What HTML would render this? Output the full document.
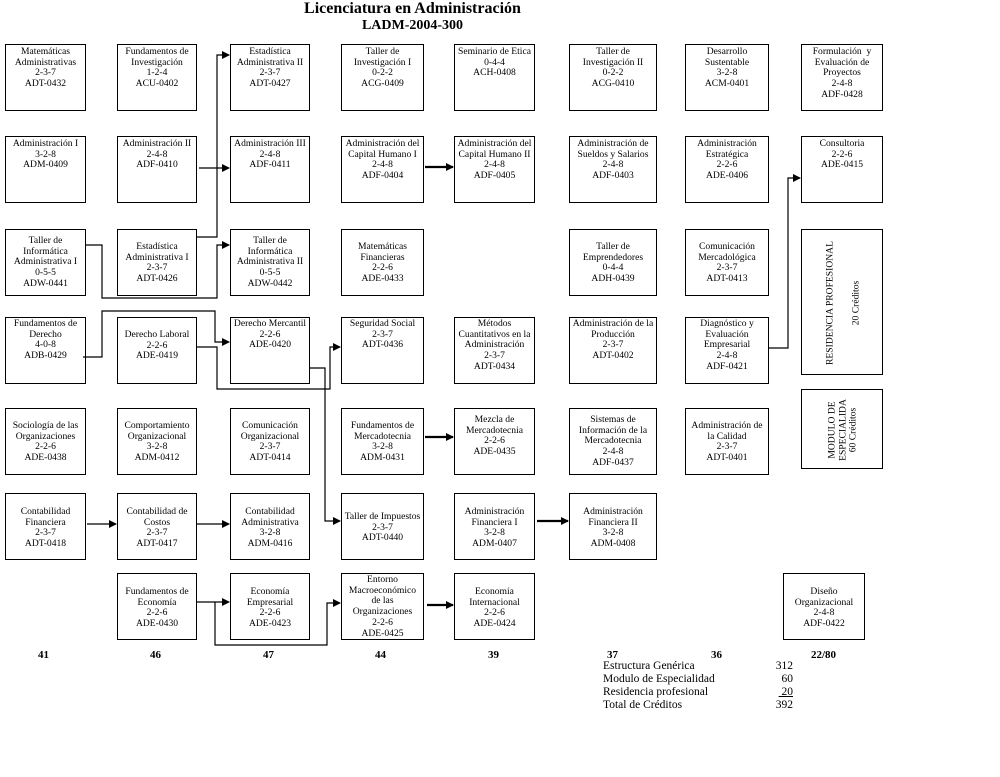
<!DOCTYPE html>
<html><head><meta charset="utf-8"><style>
body{margin:0;background:#fff;width:1000px;height:777px;position:relative;overflow:hidden;font-family:"Liberation Serif",serif;color:#000}
.b{position:absolute;border:1.3px solid #000;box-sizing:border-box;text-align:center;font-size:9.6px;line-height:10.7px}
.t{position:absolute;font-weight:bold;font-family:"Liberation Serif",serif}
.n{position:absolute;font-weight:bold;font-size:11px;top:649px}
.s{position:absolute;font-size:11.5px;left:603px}
.v{position:absolute;font-size:11.5px;right:207px;text-align:right}
</style></head><body>
<div class="t" style="left:0;width:825px;text-align:center;top:0;font-size:16px">Licenciatura en Administración</div>
<div class="t" style="left:0;width:825px;text-align:center;top:18px;font-size:14px">LADM-2004-300</div>

<div class="b" style="left:5px;top:44px;width:81px;height:67px;padding-top:2px">Matemáticas<br>Administrativas<br>2-3-7<br>ADT-0432</div>
<div class="b" style="left:117px;top:44px;width:80px;height:67px;padding-top:2px">Fundamentos de<br>Investigación<br>1-2-4<br>ACU-0402</div>
<div class="b" style="left:230px;top:44px;width:80px;height:67px;padding-top:2px">Estadística<br>Administrativa II<br>2-3-7<br>ADT-0427</div>
<div class="b" style="left:341px;top:44px;width:83px;height:67px;padding-top:2px">Taller de<br>Investigación I<br>0-2-2<br>ACG-0409</div>
<div class="b" style="left:454px;top:44px;width:81px;height:67px;padding-top:2px">Seminario de Etica<br>0-4-4<br>ACH-0408</div>
<div class="b" style="left:569px;top:44px;width:88px;height:67px;padding-top:2px">Taller de<br>Investigación II<br>0-2-2<br>ACG-0410</div>
<div class="b" style="left:685px;top:44px;width:84px;height:67px;padding-top:2px">Desarrollo<br>Sustentable<br>3-2-8<br>ACM-0401</div>
<div class="b" style="left:801px;top:44px;width:82px;height:67px;padding-top:2px">Formulación &nbsp;y<br>Evaluación de<br>Proyectos<br>2-4-8<br>ADF-0428</div>

<div class="b" style="left:5px;top:136px;width:81px;height:67px;padding-top:2px">Administración I<br>3-2-8<br>ADM-0409</div>
<div class="b" style="left:117px;top:136px;width:80px;height:67px;padding-top:2px">Administración II<br>2-4-8<br>ADF-0410</div>
<div class="b" style="left:230px;top:136px;width:80px;height:67px;padding-top:2px">Administración III<br>2-4-8<br>ADF-0411</div>
<div class="b" style="left:341px;top:136px;width:83px;height:67px;padding-top:2px">Administración del<br>Capital Humano I<br>2-4-8<br>ADF-0404</div>
<div class="b" style="left:454px;top:136px;width:81px;height:67px;padding-top:2px">Administración del<br>Capital Humano II<br>2-4-8<br>ADF-0405</div>
<div class="b" style="left:569px;top:136px;width:88px;height:67px;padding-top:2px">Administración de<br>Sueldos y Salarios<br>2-4-8<br>ADF-0403</div>
<div class="b" style="left:685px;top:136px;width:84px;height:67px;padding-top:2px">Administración<br>Estratégica<br>2-2-6<br>ADE-0406</div>
<div class="b" style="left:801px;top:136px;width:82px;height:67px;padding-top:2px">Consultoria<br>2-2-6<br>ADE-0415</div>

<div class="b" style="left:5px;top:229px;width:81px;height:67px;padding-top:6px">Taller de<br>Informática<br>Administrativa I<br>0-5-5<br>ADW-0441</div>
<div class="b" style="left:117px;top:229px;width:80px;height:67px;padding-top:12px">Estadística<br>Administrativa I<br>2-3-7<br>ADT-0426</div>
<div class="b" style="left:230px;top:229px;width:80px;height:67px;padding-top:6px">Taller de<br>Informática<br>Administrativa II<br>0-5-5<br>ADW-0442</div>
<div class="b" style="left:341px;top:229px;width:83px;height:67px;padding-top:12px">Matemáticas<br>Financieras<br>2-2-6<br>ADE-0433</div>
<div class="b" style="left:569px;top:229px;width:88px;height:67px;padding-top:12px">Taller de<br>Emprendedores<br>0-4-4<br>ADH-0439</div>
<div class="b" style="left:685px;top:229px;width:84px;height:67px;padding-top:12px">Comunicación<br>Mercadológica<br>2-3-7<br>ADT-0413</div>
<div class="b" style="left:801px;top:229px;width:82px;height:146px"><div style="position:absolute;left:41px;top:73px;width:146px;transform:translate(-50%,-50%) rotate(-90deg);line-height:13px">RESIDENCIA PROFESIONAL<br><br>20 Créditos</div></div>
<div class="b" style="left:801px;top:389px;width:82px;height:80px"><div style="position:absolute;left:41px;top:40px;width:80px;transform:translate(-50%,-50%) rotate(-90deg);line-height:10.5px">MODULO DE<br>ESPECIALIDA<br>60 Créditos</div></div>

<div class="b" style="left:5px;top:317px;width:81px;height:67px;padding-top:1px">Fundamentos de<br>Derecho<br>4-0-8<br>ADB-0429</div>
<div class="b" style="left:117px;top:317px;width:80px;height:67px;padding-top:12px">Derecho Laboral<br>2-2-6<br>ADE-0419</div>
<div class="b" style="left:230px;top:317px;width:80px;height:67px;padding-top:1px">Derecho Mercantil<br>2-2-6<br>ADE-0420</div>
<div class="b" style="left:341px;top:317px;width:83px;height:67px;padding-top:1px">Seguridad Social<br>2-3-7<br>ADT-0436</div>
<div class="b" style="left:454px;top:317px;width:81px;height:67px;padding-top:1px">Métodos<br>Cuantitativos en la<br>Administración<br>2-3-7<br>ADT-0434</div>
<div class="b" style="left:569px;top:317px;width:88px;height:67px;padding-top:1px">Administración de la<br>Producción<br>2-3-7<br>ADT-0402</div>
<div class="b" style="left:685px;top:317px;width:84px;height:67px;padding-top:1px">Diagnóstico y<br>Evaluación<br>Empresarial<br>2-4-8<br>ADF-0421</div>

<div class="b" style="left:5px;top:408px;width:81px;height:67px;padding-top:12px">Sociología de las<br>Organizaciones<br>2-2-6<br>ADE-0438</div>
<div class="b" style="left:117px;top:408px;width:80px;height:67px;padding-top:12px">Comportamiento<br>Organizacional<br>3-2-8<br>ADM-0412</div>
<div class="b" style="left:230px;top:408px;width:80px;height:67px;padding-top:12px">Comunicación<br>Organizacional<br>2-3-7<br>ADT-0414</div>
<div class="b" style="left:341px;top:408px;width:83px;height:67px;padding-top:12px">Fundamentos de<br>Mercadotecnia<br>3-2-8<br>ADM-0431</div>
<div class="b" style="left:454px;top:408px;width:81px;height:67px;padding-top:6px">Mezcla de<br>Mercadotecnia<br>2-2-6<br>ADE-0435</div>
<div class="b" style="left:569px;top:408px;width:88px;height:67px;padding-top:6px">Sistemas de<br>Información de la<br>Mercadotecnia<br>2-4-8<br>ADF-0437</div>
<div class="b" style="left:685px;top:408px;width:84px;height:67px;padding-top:12px">Administración de<br>la Calidad<br>2-3-7<br>ADT-0401</div>

<div class="b" style="left:5px;top:493px;width:81px;height:67px;padding-top:13px">Contabilidad<br>Financiera<br>2-3-7<br>ADT-0418</div>
<div class="b" style="left:117px;top:493px;width:80px;height:67px;padding-top:13px">Contabilidad de<br>Costos<br>2-3-7<br>ADT-0417</div>
<div class="b" style="left:230px;top:493px;width:80px;height:67px;padding-top:13px">Contabilidad<br>Administrativa<br>3-2-8<br>ADM-0416</div>
<div class="b" style="left:341px;top:493px;width:83px;height:67px;padding-top:18px">Taller de Impuestos<br>2-3-7<br>ADT-0440</div>
<div class="b" style="left:454px;top:493px;width:81px;height:67px;padding-top:13px">Administración<br>Financiera I<br>3-2-8<br>ADM-0407</div>
<div class="b" style="left:569px;top:493px;width:88px;height:67px;padding-top:13px">Administración<br>Financiera II<br>3-2-8<br>ADM-0408</div>

<div class="b" style="left:117px;top:573px;width:80px;height:67px;padding-top:13px">Fundamentos de<br>Economía<br>2-2-6<br>ADE-0430</div>
<div class="b" style="left:230px;top:573px;width:80px;height:67px;padding-top:13px">Economía<br>Empresarial<br>2-2-6<br>ADE-0423</div>
<div class="b" style="left:341px;top:573px;width:83px;height:67px;padding-top:1px">Entorno<br>Macroeconómico<br>de las<br>Organizaciones<br>2-2-6<br>ADE-0425</div>
<div class="b" style="left:454px;top:573px;width:81px;height:67px;padding-top:13px">Economía<br>Internacional<br>2-2-6<br>ADE-0424</div>
<div class="b" style="left:783px;top:573px;width:82px;height:67px;padding-top:13px">Diseño<br>Organizacional<br>2-4-8<br>ADF-0422</div>

<svg style="position:absolute;left:0;top:0" width="1000" height="777">
<defs><marker id="a" markerWidth="8" markerHeight="8" refX="7" refY="4" orient="auto" markerUnits="userSpaceOnUse"><path d="M0,0L8,4L0,8z"/></marker></defs>
<g fill="none" stroke="#000" stroke-width="1.2" marker-end="url(#a)">
<polyline points="197,237 217,237 217,55 229,55"/>
<polyline points="199,168 229,168"/>
<polyline points="85,245 102,245 102,298 217,298 217,245 229,245"/>
<polyline points="83,357 102,357 102,311 215,311 215,342 229,342"/>
<polyline points="197,347 217,347 217,389 330,389 330,347 340,347"/>
<polyline points="310,368 325,368 325,521 340,521"/>
<polyline points="87,524 116,524"/>
<polyline points="197,524 229,524"/>
<polyline points="197,602 229,602"/>
<polyline points="215,602 215,645 327,645 327,603 340,603"/>
<polyline points="769,348 788,348 788,178 800,178"/>
</g>
<g fill="none" stroke="#000" stroke-width="2.2" marker-end="url(#a)">
<polyline points="425,167 453,167"/>
<polyline points="425,437 453,437"/>
<polyline points="537,521 568,521"/>
<polyline points="427,605 453,605"/>
</g>
</svg>

<div class="n" style="left:38px">41</div>
<div class="n" style="left:150px">46</div>
<div class="n" style="left:263px">47</div>
<div class="n" style="left:375px">44</div>
<div class="n" style="left:488px">39</div>
<div class="n" style="left:607px">37</div>
<div class="n" style="left:711px">36</div>
<div class="n" style="left:811px">22/80</div>
<div class="s" style="top:660px">Estructura Genérica</div>
<div class="s" style="top:673px">Modulo de Especialidad</div>
<div class="s" style="top:686px">Residencia profesional</div>
<div class="s" style="top:699px">Total de Créditos</div>
<div class="v" style="top:660px">312</div>
<div class="v" style="top:673px">60</div>
<div class="v" style="top:686px;text-decoration:underline">&nbsp;20</div>
<div class="v" style="top:699px">392</div>
</body></html>
